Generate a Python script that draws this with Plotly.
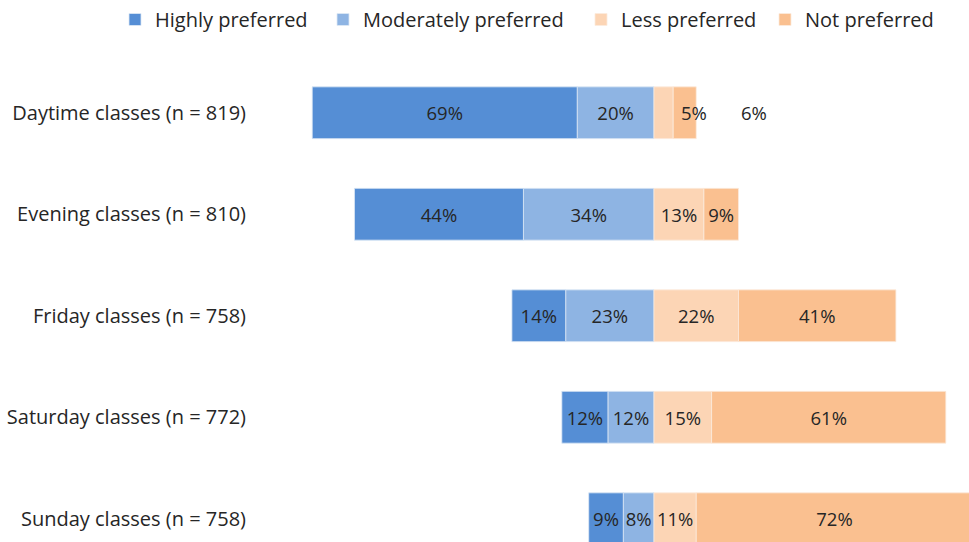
import plotly.graph_objects as go

categories = ["Daytime classes (n = 819)", "Evening classes (n = 810)", "Friday classes (n = 758)",
              "Saturday classes (n = 772)", "Sunday classes (n = 758)"]
highly = [69, 44, 14, 12, 9]
moderately = [20, 34, 23, 12, 8]
less = [5, 13, 22, 15, 11]
notp = [6, 9, 41, 61, 72]

colors = {"Highly preferred": "#558ED5", "Moderately preferred": "#8EB4E3",
          "Less preferred": "#FCD5B5", "Not preferred": "#FAC090"}
FONT = "Open Sans"
TXT = "#262626"
LBL = 18.5

fig = go.Figure()

def lab(vals, hide=()):
    return ["" if i in hide else f"{v}%" for i, v in enumerate(vals)]

# negative side: moderately adjacent to zero, then highly
fig.add_trace(go.Bar(y=categories, x=[-v for v in moderately], name="Moderately preferred",
                     orientation="h", marker=dict(color=colors["Moderately preferred"], line=dict(width=0.8, color="#DDE8F5")),
                     text=lab(moderately), legend="legend2"))
fig.add_trace(go.Bar(y=categories, x=[-v for v in highly], name="Highly preferred",
                     orientation="h", marker=dict(color=colors["Highly preferred"], line=dict(width=0.8, color="#DDE8F5")),
                     text=lab(highly), legend="legend"))
fig.add_trace(go.Bar(y=categories, x=less, name="Less preferred",
                     orientation="h", marker=dict(color=colors["Less preferred"], line=dict(width=0.8, color="#FBEBDD")),
                     text=lab(less, hide=(0,)), legend="legend3"))
fig.add_trace(go.Bar(y=categories, x=notp, name="Not preferred",
                     orientation="h", marker=dict(color=colors["Not preferred"], line=dict(width=0.8, color="#FBEBDD")),
                     text=lab(notp, hide=(0,)), legend="legend4"))

fig.update_traces(textposition="inside", insidetextanchor="middle", constraintext="none", textangle=0,
                  textfont=dict(family=FONT, size=LBL, color=TXT), width=0.51, cliponaxis=True)

# Daytime labels for the two small segments, placed beside the bar as in the original
fig.add_annotation(x=less[0] + notp[0] - 0.5, y=categories[0], text=f"{less[0]}%", showarrow=False,
                   xanchor="center", font=dict(family=FONT, size=LBL, color=TXT))
fig.add_annotation(x=less[0] + notp[0] + 15, y=categories[0], text=f"{notp[0]}%", showarrow=False,
                   xanchor="center", font=dict(family=FONT, size=LBL, color=TXT))

def leg(xpx):
    return dict(orientation="h", x=xpx / 969, xref="container", xanchor="left", y=1.0, yanchor="top",
                yref="container", font=dict(family=FONT, size=20, color=TXT), itemwidth=30,
                bgcolor="rgba(0,0,0,0)")

fig.update_layout(
    width=969, height=542, barmode="relative", bargap=0.49,
    paper_bgcolor="white", plot_bgcolor="white",
    margin=dict(l=255, r=0, t=62, b=0),
    font=dict(family=FONT, size=LBL, color=TXT),
    showlegend=True,
    legend=leg(152 - 37), legend2=leg(360 - 37), legend3=leg(618 - 37), legend4=leg(802 - 37),
    xaxis=dict(range=[-103.9, 82.03], showgrid=False, zeroline=False, showticklabels=False, fixedrange=True),
    yaxis=dict(range=[4.229, -0.5], showgrid=False, zeroline=False, ticks="", ticklabelstandoff=8,
               tickfont=dict(family=FONT, size=20, color=TXT), autorange=False),
)

fig.write_html("out.html")
